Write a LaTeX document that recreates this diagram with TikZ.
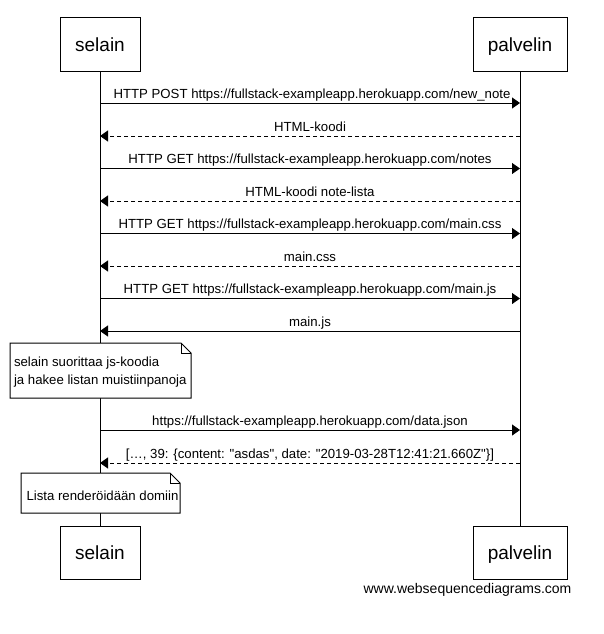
\documentclass[tikz,border=0pt]{standalone}
\usepackage{fontspec}
\setmainfont{Liberation Sans}
\usetikzlibrary{arrows.meta}
\begin{document}
\begin{tikzpicture}[x=1pt,y=-1pt,
  line width=1pt,
  actor/.style={draw, fill=white, inner sep=0pt, text depth=0pt,
    font=\fontsize{19}{22}\selectfont, minimum height=53pt},
  msg/.style={-{Triangle[length=8pt,width=11pt]}},
  reply/.style={msg, dash pattern=on 4pt off 3pt},
  lbl/.style={midway, anchor=base, yshift=5pt, inner sep=0pt,
    font=\fontsize{13.2}{15}\selectfont},
  note/.style={draw, fill=white, line join=miter},
  notetext/.style={anchor=base west, inner sep=0pt,
    font=\fontsize{13.2}{18}\selectfont, align=left}
]
\useasboundingbox (0,0) rectangle (603,634);

% participants
\node[actor, minimum width=80pt] (sTop) at (100,44.5) {selain};
\node[actor, minimum width=94pt] (pTop) at (520,44.5) {palvelin};
\node[actor, minimum width=80pt] (sBot) at (100,552.5) {selain};
\node[actor, minimum width=94pt] (pBot) at (520,552.5) {palvelin};

% lifelines
\draw (sTop) -- (sBot);
\draw (pTop) -- (pBot);

% message rows
\coordinate (m1) at (0,103);
\coordinate (m2) at (0,136);
\coordinate (m3) at (0,168.5);
\coordinate (m4) at (0,201);
\coordinate (m5) at (0,233.5);
\coordinate (m6) at (0,266);
\coordinate (m7) at (0,298.5);
\coordinate (m8) at (0,331);
\coordinate (m9) at (0,430);
\coordinate (m10) at (0,463);

\draw[msg] (sTop |- m1) -- (pTop |- m1)
  node[lbl, xshift=2pt] {HTTP POST https://fullstack-exampleapp.herokuapp.com/new\_note};
\draw[reply] (pTop |- m2) -- (sTop |- m2) node[lbl] {HTML-koodi};
\draw[msg] (sTop |- m3) -- (pTop |- m3)
  node[lbl] {HTTP GET https://fullstack-exampleapp.herokuapp.com/notes};
\draw[reply] (pTop |- m4) -- (sTop |- m4) node[lbl] {HTML-koodi note-lista};
\draw[msg] (sTop |- m5) -- (pTop |- m5)
  node[lbl] {HTTP GET https://fullstack-exampleapp.herokuapp.com/main.css};
\draw[reply] (pTop |- m6) -- (sTop |- m6) node[lbl] {main.css};
\draw[msg] (sTop |- m7) -- (pTop |- m7)
  node[lbl] {HTTP GET https://fullstack-exampleapp.herokuapp.com/main.js};
\draw[msg] (pTop |- m8) -- (sTop |- m8) node[lbl] {main.js};

% note: browser runs the script
\draw[note] (10,343) -- (181,343) -- (191,353) -- (191,398) -- (10,398) -- cycle;
\draw (181,343) -- (181,353) -- (191,353);
\node[notetext] (n1) at (13.5,384.5) {selain suorittaa js-koodia\\ja hakee listan muistiinpanoja};

\draw[msg] (sTop |- m9) -- (pTop |- m9)
  node[lbl] {https://fullstack-exampleapp.herokuapp.com/data.json};
\draw[reply] (pTop |- m10) -- (sTop |- m10)
  node[lbl] {[…, 39: \{content: \textquotedbl asdas\textquotedbl, date: \textquotedbl 2019-03-28T12:41:21.660Z\textquotedbl\}]};

% note: list rendered
\draw[note] (21,473) -- (170,473) -- (180,483) -- (180,513) -- (21,513) -- cycle;
\draw (170,473) -- (170,483) -- (180,483);
\node[notetext] (n2) at (26,500) {Lista renderöidään domiin};

\node[anchor=base, inner sep=0pt, font=\fontsize{14}{16}\selectfont] (wsd) at (467.5,593)
  {www.websequencediagrams.com};
\end{tikzpicture}
\end{document}
